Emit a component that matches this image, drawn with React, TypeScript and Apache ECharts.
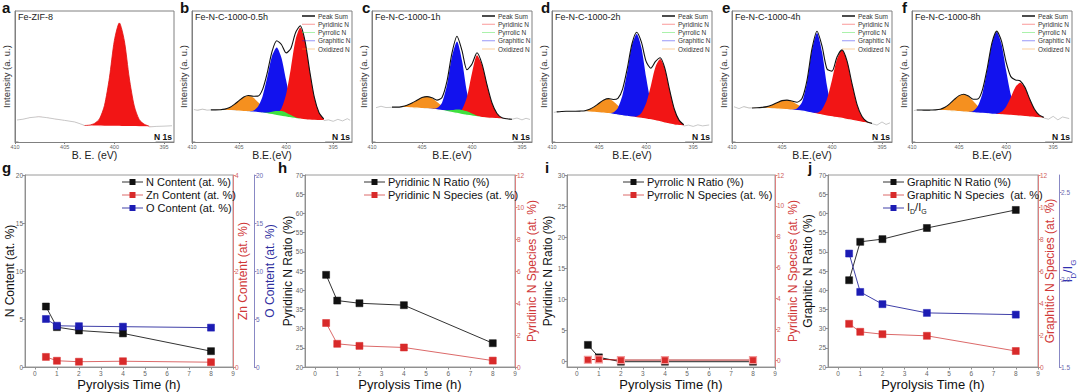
import React, { useEffect, useRef } from 'react';
import * as echarts from 'echarts';

const FONT = '"Liberation Sans", Arial, Helvetica, sans-serif';

// ================= XPS N 1s panels (a-f) =================
const EV_GRID = [409.5, 409, 408.5, 408, 407.5, 407, 406.5, 406, 405.5, 405, 404.5, 404, 403.5, 403, 402.5, 402, 401.5, 401, 400.5, 400, 399.5, 399, 398.5, 398, 397.5, 397, 396.5, 396];
const PANEL_TITLES = ['Fe-ZIF-8', 'Fe-N-C-1000-0.5h', 'Fe-N-C-1000-1h', 'Fe-N-C-1000-2h', 'Fe-N-C-1000-4h', 'Fe-N-C-1000-8h'];
const TOP_LETTERS = ['a', 'b', 'c', 'd', 'e', 'f'];
const EV_TICKS = [395, 400, 405, 410];
const EV_MIN = [394, 393, 394, 393, 394, 393];
const EV_MAX = 410;
const PEAK_LEGEND = ['Peak Sum', 'Pyridinic N', 'Pyrrolic N', 'Graphitic N', 'Oxidized N'];
const FIT_FROM = [408, 408, 409.5, 408, 409.5];
const A_FIT = [396.5, 403];

// panel a (Fe-ZIF-8)
const A_BASELINE = [17, 17.5, 18.5, 19, 19.2, 18.8, 18.2, 17.6, 17, 16.5, 16, 15.3, 14, 12.6, 12.3, 12.2, 12.1, 12, 12, 11.9, 11.9, 11.8, 11.8, 11.7, 11.6, 11.6, 11.5, 11.5];
const A_PYRIDINIC = [0, 0, 0, 0, 0, 0, 0, 0, 0, 0, 0, 0, 0, 0, 0.6, 2, 5.5, 15.8, 37, 65.6, 79, 65.6, 37, 15.8, 5.5, 2, 0.6, 0];
const A_RAW_L = [[409.8, 16.8], [409.2, 17.4], [408.5, 18.6], [407.6, 19.3], [406.8, 18.6], [406, 17.6], [405, 16.5], [404, 15.3], [403.4, 13.8], [403, 12.6]];
const A_RAW_R = [[396.5, 11.5], [395.8, 11.9], [395, 12.1], [394.2, 12.4]];

// panel b (0.5 h)
const B_BASELINE = [24.6, 24.6, 24.5, 24.5, 24.4, 24.3, 24.2, 24, 23.8, 23.5, 23.3, 23, 22.8, 22.5, 22, 21.5, 20.9, 20.2, 19.6, 19, 18.4, 17.8, 17.4, 17, 16.7, 16.5, 16.4, 16.3];
const B_OXIDIZED = [0, 0, 0, 0, 0.1, 0.3, 0.9, 2.3, 4.9, 8.1, 11.1, 12.3, 11.1, 8.1, 4.9, 2.3, 0.9, 0.3, 0.1, 0, 0, 0, 0, 0, 0, 0, 0, 0];
const B_GRAPHITIC = [0, 0, 0, 0, 0, 0, 0, 0, 0, 0, 0, 0.2, 1, 4.4, 13, 28.1, 44.7, 52, 44.7, 28.1, 13, 4.4, 1, 0.2, 0, 0, 0, 0];
const B_PYRIDINIC = [0, 0, 0, 0, 0, 0, 0, 0, 0, 0, 0, 0, 0, 0, 0, 0, 0.3, 1.4, 6, 17.5, 37.8, 60.2, 70, 60.2, 37.8, 17.5, 6, 1.4];
const B_PYRROLIC = [0, 0, 0, 0, 0, 0, 0, 0, 0, 0, 0, 0, 0, 0, 0.3, 1, 2.2, 3.4, 4, 3.4, 2.2, 1, 0.3, 0, 0, 0, 0, 0];
const B_RAW_L = [[409.8, 24.8], [409.4, 24.1], [408.9, 25.1], [408.4, 24.3], [408, 24.5]];
const B_RAW_R = [[396, 16.3], [395.5, 16.9], [395, 15.8], [394.5, 17.3], [394, 16.1], [393.5, 17.8], [393.2, 16.6]];

// panel c (1 h)
const C_BASELINE = [26.8, 26.8, 26.7, 26.5, 26.4, 26.3, 26.2, 26, 25.8, 25.5, 25.3, 25, 24.5, 24, 23.3, 22.5, 21.8, 21, 20.4, 19.8, 19.2, 18.7, 18.3, 18, 17.8, 17.6, 17.5, 17.4];
const C_OXIDIZED = [0, 0, 0, 0.1, 0.2, 0.7, 1.8, 3.7, 6.1, 8.4, 9.3, 8.4, 6.1, 3.7, 1.8, 0.7, 0.2, 0.1, 0, 0, 0, 0, 0, 0, 0, 0, 0, 0];
const C_GRAPHITIC = [0, 0, 0, 0, 0, 0, 0, 0, 0, 0, 0, 0.3, 1.4, 6, 20.4, 42.9, 55, 41.3, 17.6, 5, 1, 0.2, 0, 0, 0, 0, 0, 0];
const C_PYRIDINIC = [0, 0, 0, 0, 0, 0, 0, 0, 0, 0, 0, 0, 0, 0, 0, 0, 0.7, 3.8, 14.1, 32.9, 47, 40.4, 25.4, 11.8, 4, 0.9, 0.2, 0];
const C_PYRROLIC = [0, 0, 0, 0, 0, 0, 0, 0, 0, 0, 0, 0, 0, 0.3, 0.9, 1.9, 3, 3.5, 3, 1.9, 0.9, 0.3, 0, 0, 0, 0, 0, 0];
const C_RAW_L = [[409.6, 26.2], [409.1, 27.3], [408.6, 26.3], [408, 26.5]];
const C_RAW_R = [[396, 17.4], [395.5, 18.3], [395, 16.9], [394.6, 18.1], [394.2, 17.2]];

// panel d (2 h)
const D_BASELINE = [23, 23.3, 23.5, 23.5, 23.4, 23.3, 23.1, 22.9, 22.6, 22.3, 22, 21.7, 21.2, 20.6, 20, 19.5, 19, 18.5, 18, 17.5, 16.9, 16.2, 15.3, 14.5, 13.7, 13, 12.6, 12.2];
const D_OXIDIZED = [0, 0, 0, 0, 0.1, 0.3, 0.8, 2.1, 4.4, 7.3, 10, 11.1, 10, 7.3, 4.4, 2.1, 0.8, 0.3, 0.1, 0, 0, 0, 0, 0, 0, 0, 0, 0];
const D_GRAPHITIC = [0, 0, 0, 0, 0, 0, 0, 0, 0, 0, 0, 0.3, 1.3, 5.4, 16, 34.6, 55, 64, 54, 32, 13.5, 4, 1, 0.2, 0, 0, 0, 0];
const D_PYRIDINIC = [0, 0, 0, 0, 0, 0, 0, 0, 0, 0, 0, 0, 0, 0, 0, 0, 0.2, 1, 4.1, 12, 25.9, 41.3, 48, 41.3, 25.9, 12, 4.1, 1];
const D_PYRROLIC = [0, 0, 0, 0, 0, 0, 0, 0, 0, 0, 0, 0, 0, 0, 0, 0, 0, 0, 0, 0, 0, 0, 0, 0, 0, 0, 0, 0];
const D_RAW_L = [[409.8, 22.6], [409.5, 23]];
const D_RAW_R = [[396, 12.2], [395.5, 12.9], [395, 11.9], [394.5, 13.1], [394, 12.3], [393.3, 13]];

// panel e (4 h)
const E_BASELINE = [26.2, 26.2, 26.1, 26, 25.9, 25.8, 25.6, 25.4, 25.2, 25, 24.7, 24.4, 24, 23.5, 22.8, 22, 21.3, 20.5, 19.8, 19.2, 18.6, 18, 17.2, 16.5, 15.7, 15, 14.5, 14];
const E_OXIDIZED = [0, 0, 0, 0, 0.2, 0.6, 1.4, 2.9, 4.8, 6.6, 7.3, 6.6, 4.8, 2.9, 1.4, 0.6, 0.2, 0, 0, 0, 0, 0, 0, 0, 0, 0, 0, 0];
const E_GRAPHITIC = [0, 0, 0, 0, 0, 0, 0, 0, 0, 0, 0, 0.3, 1.6, 6.8, 22.9, 48.4, 62, 48.4, 22.9, 6.8, 1.6, 0.3, 0, 0, 0, 0, 0, 0];
const E_PYRIDINIC = [0, 0, 0, 0, 0, 0, 0, 0, 0, 0, 0, 0, 0, 0, 0, 0.2, 1, 4.4, 13, 28.1, 44.7, 52, 44.7, 28.1, 13, 4.4, 1, 0.2];
const E_PYRROLIC = [0, 0, 0, 0, 0, 0, 0, 0, 0, 0, 0, 0, 0, 0, 0, 0, 0, 0, 0, 0, 0, 0, 0, 0, 0, 0, 0, 0];
const E_RAW_L = [[409.8, 26.9], [409.3, 25.5], [408.8, 27.1], [408.3, 25.9], [408, 26]];
const E_RAW_R = [[396, 14], [395.5, 12.9], [395, 15.3], [394.6, 13.4], [394.2, 14.6]];

// panel f (8 h)
const F_BASELINE = [24.4, 24.4, 24.3, 24.3, 24.2, 24, 23.9, 23.7, 23.5, 23.2, 22.9, 22.6, 22.3, 22, 21.8, 21.5, 21.2, 21, 20.8, 20.6, 20.3, 20, 19.7, 19.4, 19.1, 18.8, 18.5, 18.3];
const F_OXIDIZED = [0, 0, 0, 0.1, 0.3, 1, 2.6, 5.4, 9, 12.2, 13.6, 12.2, 9, 5.4, 2.6, 1, 0.3, 0.1, 0, 0, 0, 0, 0, 0, 0, 0, 0, 0];
const F_GRAPHITIC = [0, 0, 0, 0, 0, 0, 0, 0, 0, 0, 0, 0.3, 1.3, 5.4, 15.8, 34, 54.2, 63, 54.2, 34, 15.8, 5.4, 1.3, 0.3, 0, 0, 0, 0];
const F_PYRIDINIC = [0, 0, 0, 0, 0, 0, 0, 0, 0, 0, 0, 0, 0, 0, 0, 0, 0.1, 0.5, 2.2, 6.4, 13.8, 22, 25.6, 22, 13.8, 6.4, 2.2, 0.5];
const F_PYRROLIC = [0, 0, 0, 0, 0, 0, 0, 0, 0, 0, 0, 0, 0, 0, 0, 0, 0, 0, 0, 0, 0, 0, 0, 0, 0, 0, 0, 0];
const F_RAW_L = [[409.8, 24], [409.5, 24.4]];
const F_RAW_R = [[396, 18.3], [395.5, 17.4], [395, 19.6], [394.5, 16.9], [394, 19.1], [393.3, 17.9]];

// ================= composition panels (g-j) =================
const TIME = [0.5, 1, 2, 4, 8];
const TIME_TICKS = [0, 1, 2, 3, 4, 5, 6, 7, 8, 9];
const N_CONTENT = [6.3, 4.15, 3.8, 3.5, 1.65];
const ZN_CONTENT = [0.21, 0.13, 0.11, 0.12, 0.1];
const O_CONTENT = [5.0, 4.3, 4.25, 4.2, 4.1];
const PYRIDINIC_RATIO = [44, 37.3, 36.6, 36.1, 26.2];
const PYRIDINIC_SPECIES = [2.75, 1.45, 1.32, 1.22, 0.4];
const PYRROLIC_RATIO = [2.7, 0.7, 0, 0, 0];
const PYRROLIC_SPECIES = [0.02, 0.05, 0, 0, 0];
const GRAPHITIC_RATIO = [42.6, 52.6, 53.3, 56.2, 60.9];
const GRAPHITIC_SPECIES = [2.7, 2.2, 2.05, 1.95, 1.0];
const ID_IG = [2.15, 1.93, 1.86, 1.81, 1.8];

const RED = '#f21515';
const BLUE = '#1212ee';
const ORANGE = '#f5901f';
const GREEN = '#3ee03e';
const PT_BLACK = '#111111';
const PT_RED = '#d82a2a';
const PT_BLUE = '#1c1cb4';

function buildOption() {
  const grid: any[] = [];
  const xAxis: any[] = [];
  const yAxis: any[] = [];
  const series: any[] = [];
  const graphic: any[] = [];

  const txt = (x: number, y: number, text: string, o: any = {}) => ({
    type: 'text', x, y, z: 100, silent: true,
    style: { text, fill: o.fill || '#222', fontSize: o.fontSize || 10, fontFamily: FONT, fontWeight: o.fontWeight || 'normal', align: o.align || 'left', verticalAlign: o.verticalAlign || 'middle', rich: o.rich },
  });

  // ---------- top XPS panels ----------
  const TOP_L = [15, 192, 372, 552, 732, 912];
  const TOP_W = [159, 160, 160, 160, 160, 160];
  const TOP_T = 11;
  const TOP_H = 131;
  const LETTER_X = [2, 180, 362, 541, 722, 902];

  const xps = [
    null,
    { base: B_BASELINE, py: B_PYRIDINIC, pr: B_PYRROLIC, gr: B_GRAPHITIC, ox: B_OXIDIZED, rl: B_RAW_L, rr: B_RAW_R },
    { base: C_BASELINE, py: C_PYRIDINIC, pr: C_PYRROLIC, gr: C_GRAPHITIC, ox: C_OXIDIZED, rl: C_RAW_L, rr: C_RAW_R },
    { base: D_BASELINE, py: D_PYRIDINIC, pr: D_PYRROLIC, gr: D_GRAPHITIC, ox: D_OXIDIZED, rl: D_RAW_L, rr: D_RAW_R },
    { base: E_BASELINE, py: E_PYRIDINIC, pr: E_PYRROLIC, gr: E_GRAPHITIC, ox: E_OXIDIZED, rl: E_RAW_L, rr: E_RAW_R },
    { base: F_BASELINE, py: F_PYRIDINIC, pr: F_PYRROLIC, gr: F_GRAPHITIC, ox: F_OXIDIZED, rl: F_RAW_L, rr: F_RAW_R },
  ];

  const area = (i: number, base: number[], h: number[], color: string, name: string) => ({
    type: 'line', name, xAxisIndex: i, yAxisIndex: i, silent: true, symbol: 'none', smooth: 0.25,
    data: EV_GRID.map((ev, k) => [ev, base[k] + h[k]]),
    lineStyle: { width: 0, opacity: 0 },
    areaStyle: { color, opacity: 1, origin: 'start' },
  });
  // white background below the fitted baseline (slightly wider than the fit grid to hide polygon edges)
  const mask = (i: number, base: number[]) => {
    const last = EV_GRID.length - 1;
    const data = [[EV_GRID[0] + 0.15, base[0]], ...EV_GRID.map((ev, k) => [ev, base[k]]), [EV_GRID[last] - 0.15, base[last]]];
    return {
      type: 'line', name: 'background', xAxisIndex: i, yAxisIndex: i, silent: true, symbol: 'none', smooth: 0.25,
      data,
      lineStyle: { width: 1.2, color: '#ffffff' },
      areaStyle: { color: '#ffffff', opacity: 1, origin: 'start' },
    };
  };
  const ln = (i: number, data: any[], color: string, width: number, smooth: any = false) => ({
    type: 'line', xAxisIndex: i, yAxisIndex: i, silent: true, symbol: 'none', smooth, data,
    lineStyle: { color, width },
  });

  for (let p = 0; p < 6; p++) {
    const L = TOP_L[p];
    const W = TOP_W[p];
    grid.push({ left: L, top: TOP_T, width: W, height: TOP_H, show: true, borderColor: '#808080', borderWidth: 1, containLabel: false, outerBoundsMode: 'none' });
    xAxis.push({
      gridIndex: p, type: 'value', inverse: true, min: EV_MIN[p], max: EV_MAX, z: 5,
      axisLine: { show: true, onZero: false, lineStyle: { color: '#808080', width: 1 } },
      axisTick: { show: true, length: 2, customValues: EV_TICKS, lineStyle: { color: '#808080' } },
      axisLabel: { show: true, customValues: EV_TICKS, fontSize: 5.5, color: '#666', margin: 2, fontFamily: FONT },
      splitLine: { show: false },
      name: p === 0 ? 'B. E. (eV)' : 'B.E.(eV)', nameLocation: 'middle', nameGap: 7, nameMoveOverlap: false,
      nameTextStyle: { fontSize: 10.5, color: '#222', fontFamily: FONT },
    });
    yAxis.push({
      gridIndex: p, type: 'value', min: 0, max: 100, z: 5,
      axisLine: { show: true, onZero: false, lineStyle: { color: '#808080', width: 1 } },
      axisTick: { show: false }, axisLabel: { show: false }, splitLine: { show: false },
      name: 'Intensity (a. u.)', nameLocation: 'middle', nameGap: 4, nameRotate: 90, nameMoveOverlap: false,
      nameTextStyle: { fontSize: 9.5, color: '#333', fontFamily: FONT },
    });

    if (p === 0) {
      series.push(area(0, A_BASELINE, A_PYRIDINIC, RED, 'Pyridinic N'));
      series.push(mask(0, A_BASELINE));
      series.push(ln(0, A_RAW_L, '#b0b0b0', 0.7));
      series.push(ln(0, A_RAW_R, '#b0b0b0', 0.7));
      const env = EV_GRID.map((ev, k) => [ev, A_BASELINE[k] + A_PYRIDINIC[k]]).filter(([ev]) => ev >= A_FIT[0] && ev <= A_FIT[1]);
      series.push(ln(0, env, '#e01010', 0.8, 0.25));
    } else {
      const d: any = xps[p];
      series.push(area(p, d.base, d.ox, ORANGE, 'Oxidized N'));
      series.push(area(p, d.base, d.gr, BLUE, 'Graphitic N'));
      series.push(area(p, d.base, d.py, RED, 'Pyridinic N'));
      series.push(area(p, d.base, d.pr, GREEN, 'Pyrrolic N'));
      series.push(mask(p, d.base));
      series.push(ln(p, d.rl, '#b0b0b0', 0.7));
      series.push(ln(p, d.rr, '#b0b0b0', 0.7));
      const sum = EV_GRID.map((ev, k) => [ev, d.base[k] + d.ox[k] + d.gr[k] + d.py[k] + d.pr[k]]).filter(([ev]) => ev <= FIT_FROM[p - 1]);
      series.push({ ...ln(p, sum, '#111', 1.1, 0.25), name: 'Peak Sum' });

      // legend
      const legendColors = ['#111', RED, GREEN, BLUE, ORANGE];
      PEAK_LEGEND.forEach((nm, k) => {
        const y = 16 + k * 8.25;
        graphic.push({ type: 'line', z: 100, silent: true, shape: { x1: L + 110, y1: y, x2: L + 123, y2: y }, style: { stroke: legendColors[k], lineWidth: k === 0 ? 1.5 : 0.8, opacity: k === 0 ? 1 : 0.55 } });
        graphic.push(txt(L + 126, y, nm, { fontSize: 6.5, fill: '#333' }));
      });
    }
    graphic.push(txt(L + 3, 17, PANEL_TITLES[p], { fontSize: 9, fill: '#222' }));
    graphic.push(txt(L + W - 2, 137, 'N 1s', { fontSize: 8.5, fontWeight: 'bold', align: 'right', fill: '#111' }));
    graphic.push(txt(LETTER_X[p], 7.5, TOP_LETTERS[p], { fontSize: 15, fontWeight: 'bold', fill: '#111' }));
  }

  // ---------- bottom panels ----------
  const BOT = [{ l: 25, r: 233 }, { l: 305, r: 515 }, { l: 567, r: 775 }, { l: 828, r: 1038 }];
  const BOT_T = 175;
  const BOT_H = 192;
  BOT.forEach((b, k) => {
    const gi = 6 + k;
    grid.push({ left: b.l, top: BOT_T, width: b.r - b.l, height: BOT_H, show: true, borderColor: '#9a9a9a', borderWidth: 1, containLabel: false, outerBoundsMode: 'none' });
    xAxis.push({
      gridIndex: gi, type: 'value', min: -0.45, max: 9, z: 5,
      axisLine: { show: true, onZero: false, lineStyle: { color: '#909090' } },
      axisTick: { show: true, length: 2.5, customValues: TIME_TICKS, lineStyle: { color: '#909090' } },
      axisLabel: { customValues: TIME_TICKS, fontSize: 6.5, color: '#666', margin: 3, fontFamily: FONT },
      splitLine: { show: false },
      name: 'Pyrolysis Time (h)', nameLocation: 'middle', nameGap: 11, nameMoveOverlap: false,
      nameTextStyle: { fontSize: 13, color: '#111', fontFamily: FONT },
    });
  });

  const yAx = (gi: number, o: any) => ({
    gridIndex: gi, type: 'value', min: o.min, max: o.max, position: o.position, offset: o.offset || 0, z: 5,
    axisLine: { show: true, onZero: false, lineStyle: { color: o.lineColor } },
    axisTick: { show: true, length: 2.5, customValues: o.ticks, lineStyle: { color: o.lineColor } },
    axisLabel: { customValues: o.ticks, fontSize: 6.5, color: o.labelColor, margin: 2, fontFamily: FONT, formatter: o.fmt },
    splitLine: { show: false },
    name: o.name, nameLocation: 'middle', nameGap: o.nameGap, nameRotate: 90, nameMoveOverlap: false,
    nameTextStyle: { fontSize: o.nameSize || 12, color: o.nameColor, fontFamily: FONT, rich: o.rich },
  });
  const GREY = '#909090';
  const LRED = '#dd8080';
  const LBLUE = '#8888c4';
  const T20 = [0, 5, 10, 15, 20];
  const T70 = [20, 25, 30, 35, 40, 45, 50, 55, 60, 65, 70];
  const T30 = [0, 5, 10, 15, 20, 25, 30];
  const T12 = [0, 2, 4, 6, 8, 10, 12];
  // g
  yAxis.push(yAx(6, { min: 0, max: 20, position: 'left', ticks: T20, lineColor: GREY, labelColor: '#666', name: 'N Content (at. %)', nameGap: 9, nameColor: '#111' }));
  yAxis.push(yAx(6, { min: 0, max: 4, position: 'right', ticks: [0, 2, 4], lineColor: LRED, labelColor: '#d06060', name: 'Zn Content (at. %)', nameGap: 4, nameColor: '#d03838' }));
  yAxis.push(yAx(6, { min: 0, max: 20, position: 'right', offset: 21, ticks: T20, lineColor: LBLUE, labelColor: '#6a6ab0', name: 'O Content (at. %)', nameGap: 10, nameColor: '#3030a0' }));
  // h
  yAxis.push(yAx(7, { min: 20, max: 70, position: 'left', ticks: T70, lineColor: GREY, labelColor: '#666', name: 'Pyridinic N Ratio (%)', nameGap: 11, nameColor: '#111' }));
  yAxis.push(yAx(7, { min: 0, max: 12, position: 'right', ticks: T12, lineColor: LRED, labelColor: '#d06060', name: 'Pyridinic N Species (at. %)', nameGap: 11, nameColor: '#d03838' }));
  // i
  yAxis.push(yAx(8, { min: -0.85, max: 30, position: 'left', ticks: T30, lineColor: GREY, labelColor: '#666', name: 'Pyridinic N Ratio (%)', nameGap: 13, nameColor: '#111' }));
  yAxis.push(yAx(8, { min: -0.45, max: 12, position: 'right', ticks: T12, lineColor: LRED, labelColor: '#d06060', name: 'Pyridinic N Species (at. %)', nameGap: 12, nameColor: '#d03838' }));
  // j
  yAxis.push(yAx(9, { min: 20, max: 70, position: 'left', ticks: T70, lineColor: GREY, labelColor: '#666', name: 'Graphitic N Ratio (%)', nameGap: 14, nameColor: '#111' }));
  yAxis.push(yAx(9, { min: 0, max: 12, position: 'right', ticks: T12, lineColor: LRED, labelColor: '#d06060', name: 'Graphitic N Species (at. %)', nameGap: 6, nameColor: '#d03838' }));
  yAxis.push(yAx(9, {
    min: 1.5, max: 2.6, position: 'right', offset: 21, ticks: [1.5, 2.0, 2.5], fmt: (v: number) => v.toFixed(1),
    lineColor: LBLUE, labelColor: '#6a6ab0', name: '{n|I}{s|D}{n|/I}{s|G}', nameGap: 2, nameColor: '#3030b0',
    rich: { n: { fontSize: 13, color: '#3030b0', fontFamily: FONT, padding: [0, 0, 3, 0], verticalAlign: 'bottom' }, s: { fontSize: 8, color: '#3030b0', fontFamily: FONT, verticalAlign: 'bottom' } },
  }));

  const pts = (xi: number, yi: number, vals: number[], color: string, lineColor: string, name: string) => ({
    type: 'line', name, xAxisIndex: xi, yAxisIndex: yi, silent: true,
    data: TIME.map((t, k) => [t, vals[k]]),
    symbol: 'rect', symbolSize: 7,
    itemStyle: { color, borderColor: color, borderWidth: 0.5 },
    lineStyle: { color: lineColor, width: 1 },
  });
  series.push(pts(6, 6, N_CONTENT, PT_BLACK, '#333', 'N Content (at. %)'));
  series.push(pts(6, 7, ZN_CONTENT, PT_RED, '#dc6a6a', 'Zn Content (at. %)'));
  series.push(pts(6, 8, O_CONTENT, PT_BLUE, '#4040a8', 'O Content (at. %)'));
  series.push(pts(7, 9, PYRIDINIC_RATIO, PT_BLACK, '#333', 'Pyridinic N Ratio (%)'));
  series.push(pts(7, 10, PYRIDINIC_SPECIES, PT_RED, '#dc6a6a', 'Pyridinic N Species (at. %)'));
  series.push(pts(8, 11, PYRROLIC_RATIO, PT_BLACK, '#222', 'Pyrrolic N Ratio (%)'));
  series.push({ ...pts(8, 12, PYRROLIC_SPECIES, PT_RED, '#b02020', 'Pyrrolic N Species (at. %)'), itemStyle: { color: PT_RED, borderColor: '#f39a9a', borderWidth: 1.2 } });
  series.push(pts(9, 13, GRAPHITIC_RATIO, PT_BLACK, '#333', 'Graphitic N Ratio (%)'));
  series.push(pts(9, 14, GRAPHITIC_SPECIES, PT_RED, '#dc6a6a', 'Graphitic N Species (at. %)'));
  series.push(pts(9, 15, ID_IG, PT_BLUE, '#4040a8', 'ID/IG'));

  // bottom legends
  const legItem = (tx: number, y: number, color: string, lineColor: string, text: string, rich?: any) => {
    graphic.push({ type: 'line', z: 100, silent: true, shape: { x1: tx - 24, y1: y, x2: tx - 3, y2: y }, style: { stroke: lineColor, lineWidth: 1 } });
    graphic.push({ type: 'rect', z: 101, silent: true, shape: { x: tx - 16.5, y: y - 3, width: 6, height: 6 }, style: { fill: color } });
    graphic.push(txt(tx, y, text, { fontSize: 11, fill: '#111', rich }));
  };
  const ROWS = [182, 195, 208];
  legItem(146, ROWS[0], PT_BLACK, '#333', 'N Content (at. %)');
  legItem(146, ROWS[1], PT_RED, '#dc6a6a', 'Zn Content (at. %)');
  legItem(146, ROWS[2], PT_BLUE, '#4040a8', 'O Content (at. %)');
  legItem(388, ROWS[0], PT_BLACK, '#333', 'Pyridinic N Ratio (%)');
  legItem(388, ROWS[1], PT_RED, '#dc6a6a', 'Pyridinic N Species (at. %)');
  legItem(647, ROWS[0], PT_BLACK, '#333', 'Pyrrolic N Ratio (%)');
  legItem(647, ROWS[1], PT_RED, '#dc6a6a', 'Pyrrolic N Species (at. %)');
  legItem(907, ROWS[0], PT_BLACK, '#333', 'Graphitic N Ratio (%)');
  legItem(907, ROWS[1], PT_RED, '#dc6a6a', 'Graphitic N Species  (at. %)');
  legItem(907, ROWS[2], PT_BLUE, '#4040a8', '{n|I}{s|D}{n|/I}{s|G}', {
    n: { fontSize: 11, fill: '#111', fontFamily: FONT, padding: [0, 0, 3, 0], verticalAlign: 'bottom' },
    s: { fontSize: 7, fill: '#111', fontFamily: FONT, verticalAlign: 'bottom' },
  });

  const BOT_LETTERS = [['g', 2], ['h', 278], ['i', 545], ['j', 808]];
  BOT_LETTERS.forEach(([t, x]) => graphic.push(txt(x as number, 167, t as string, { fontSize: 15, fontWeight: 'bold', fill: '#111' })));

  return {
    animation: false,
    backgroundColor: '#ffffff',
    textStyle: { fontFamily: FONT },
    grid, xAxis, yAxis, series, graphic,
  };
}

export default function App() {
  const ref = useRef<HTMLDivElement>(null);
  useEffect(() => {
    document.body.style.margin = '0';
    if (!ref.current) return;
    const chart = echarts.init(ref.current, null, { renderer: 'svg' });
    chart.setOption(buildOption() as any);
    return () => chart.dispose();
  }, []);
  return <div ref={ref} style={{ width: 1080, height: 392 }} />;
}
